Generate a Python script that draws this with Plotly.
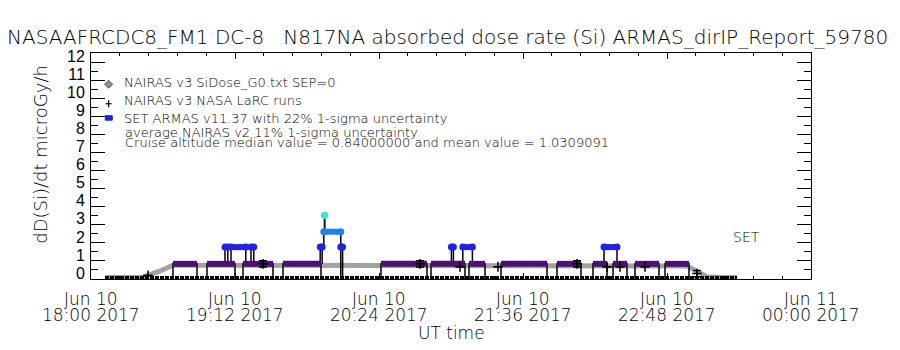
import pandas as pd
import plotly.graph_objects as go

T0 = pd.Timestamp("2017-06-10 18:00")


def tt(mins):
    return [T0 + pd.Timedelta(minutes=float(m)) for m in mins]


# ---------------- data (minutes after 2017-06-10 18:00 UT) ----------------
# NAIRAS v3 SiDose_G0 model curve
nairas_t = [7, 26, 34, 41, 60, 90, 120, 150, 180, 210, 240, 270, 298, 303, 308, 316, 323]
nairas_v = [0.08, 0.10, 0.42, 0.76, 0.76, 0.75, 0.76, 0.76, 0.75, 0.74, 0.75, 0.74, 0.72, 0.42, 0.12, 0.09, 0.08]

# ARMAS zero-level baseline extent
base_t = [7, 323]
base_v = [0.08, 0.08]

# ARMAS cruise-level segments
cruise_start = [41, 58, 76, 96, 145, 170, 189, 205, 233, 251, 261, 272, 287]
cruise_end = [53, 72, 91, 115, 168, 187, 197, 228, 245, 258, 268, 284, 299]
cruise_level = 0.84

# ARMAS enhanced points
spike_start = [67.0, 70.0, 80.0, 114.6, 116.4, 116.8, 124.9, 180.2, 185.9, 256.5]
spike_end = [68.4, 77.4, 81.4, 115.6, 124.9, 116.8, 125.8, 181.2, 190.7, 263.0]
spike_value = [1.77, 1.77, 1.77, 1.77, 2.62, 3.53, 1.77, 1.77, 1.77, 1.77]
spike_base = [0.84, 0.84, 0.84, 0.84, 1.77, 2.62, 0.0, 0.84, 0.84, 0.84]

# NAIRAS v3 NASA LaRC runs
larc_t = [28.5, 86.0, 164.5, 184.5, 203.5, 243.0, 258.0, 264.5, 277.0, 303.0]
larc_v = [0.20, 0.84, 0.84, 0.68, 0.68, 0.84, 0.68, 0.68, 0.68, 0.30]
larc_err = [0.0, 0.17, 0.17, 0.0, 0.0, 0.17, 0.0, 0.0, 0.0, 0.17]

# axis labels
x_tick_min = [0, 72, 144, 216, 288, 360]
x_tick_top = ["Jun 10", "Jun 10", "Jun 10", "Jun 10", "Jun 10", "Jun 11"]
x_tick_bot = ["18:00 2017", "19:12 2017", "20:24 2017", "21:36 2017", "22:48 2017", "00:00 2017"]
y_tick_vals = list(range(0, 13))
y_tick_text = [str(v) for v in y_tick_vals]

title_text = "NASAAFRCDC8_FM1 DC-8   N817NA absorbed dose rate (Si) ARMAS_dirIP_Report_59780"
legend_lines = [
    "NAIRAS v3 SiDose_G0.txt SEP=0",
    "NAIRAS v3 NASA LaRC runs",
    "SET ARMAS v11.37 with 22% 1-sigma uncertainty",
    "average NAIRAS v2 11% 1-sigma uncertainty",
    "Cruise altitude median value = 0.84000000 and mean value = 1.0309091",
]

# ---------------- styles ----------------
FONT = "DejaVu Sans, Liberation Sans, sans-serif"
W = 200
PURPLE = "#4c1173"
BLUE = "#2222e6"
LBLUE = "#1f80f0"
CYAN = "#33e6e6"
level_color = {1.77: BLUE, 2.62: LBLUE, 3.53: CYAN}

fig = go.Figure()

# NAIRAS band (dithered gray)
fig.add_trace(go.Scatter(x=tt(nairas_t), y=nairas_v, mode="lines",
                         line=dict(color="#a2a2a2", width=5), hoverinfo="skip"))
# baseline (zero values)
fig.add_trace(go.Scatter(x=tt(base_t), y=base_v, mode="lines",
                         line=dict(color="black", width=3, dash="4px,1px"), hoverinfo="skip"))

# black connecting lines for ARMAS
lx, ly = [], []
for s, e in zip(cruise_start, cruise_end):
    lx += [s, s, e, e, None]
    ly += [0, cruise_level, cruise_level, 0, None]
for s, e, v, b in zip(spike_start, spike_end, spike_value, spike_base):
    lx += [s, s, None, e, e, None]
    ly += [b, v, None, v, b, None]
fig.add_trace(go.Scatter(x=[T0 + pd.Timedelta(minutes=m) if m is not None else None for m in lx],
                         y=ly, mode="lines", line=dict(color="black", width=1.5),
                         hoverinfo="skip"))

# purple cruise bars
px_, py_ = [], []
for s, e in zip(cruise_start, cruise_end):
    px_ += [T0 + pd.Timedelta(minutes=s), T0 + pd.Timedelta(minutes=e), None]
    py_ += [cruise_level, cruise_level, None]
fig.add_trace(go.Scatter(x=px_, y=py_, mode="lines",
                         line=dict(color=PURPLE, width=6), hoverinfo="skip"))

# enhanced points
for s, e, v in zip(spike_start, spike_end, spike_value):
    c = level_color[v]
    fig.add_trace(go.Scatter(x=tt([s, e]), y=[v, v], mode="lines+markers",
                             line=dict(color=c, width=6),
                             marker=dict(color=c, size=7, symbol="circle"),
                             hoverinfo="skip"))

# LaRC runs with error bars
fig.add_trace(go.Scatter(x=tt(larc_t), y=larc_v, mode="markers",
                         marker=dict(symbol="cross-thin", size=7,
                                     line=dict(color="black", width=1.5)),
                         error_y=dict(type="data", array=larc_err, color="black",
                                      thickness=1.5, width=4),
                         hoverinfo="skip"))

# ---------------- layout ----------------
fig.update_layout(
    width=900, height=350,
    margin=dict(l=91, r=89, t=53, b=71),
    paper_bgcolor="white", plot_bgcolor="white",
    showlegend=False,
    font=dict(family=FONT, color="black", weight=W),
    xaxis=dict(type="date", range=[T0, T0 + pd.Timedelta(hours=6)],
               showline=True, linecolor="black", linewidth=1, mirror="ticks",
               ticks="inside", ticklen=6, tickcolor="black", tickwidth=1,
               tickvals=tt(x_tick_min), showticklabels=False, showgrid=False,
               zeroline=False,
               minor=dict(ticks="inside", ticklen=3, tickcolor="black",
                          tick0=T0, dtick=864000, showgrid=False)),
    yaxis=dict(range=[0, 12.53], showline=True, linecolor="black", linewidth=1,
               mirror="ticks", ticks="inside", ticklen=14, tickcolor="black",
               tickvals=y_tick_vals, ticktext=y_tick_text, ticklabelshift=-6,
               ticklabelstandoff=2,
               tickfont=dict(family="Liberation Sans Narrow, Liberation Sans", size=16,
                             weight=W),
               showgrid=False, zeroline=False,
               minor=dict(ticks="inside", ticklen=7, tickcolor="black", dtick=0.5,
                          showgrid=False)),
)

ann = []
for m, a, b in zip(x_tick_min, x_tick_top, x_tick_bot):
    xv = T0 + pd.Timedelta(minutes=m)
    ann.append(dict(x=xv, xref="x", y=0, yref="paper", yanchor="middle", yshift=-20,
                    text=a, showarrow=False, font=dict(size=17, weight=W)))
    ann.append(dict(x=xv, xref="x", y=0, yref="paper", yanchor="middle", yshift=-36,
                    text=b, showarrow=False, font=dict(size=17, weight=W)))
ann.append(dict(x=0.5, xref="paper", y=0, yref="paper", yanchor="middle", yshift=-54,
                text="UT time", showarrow=False, font=dict(size=17, weight=W)))
ann.append(dict(x=0, xref="paper", xshift=-50, xanchor="center", y=0.55, yref="paper",
                textangle=-90, text="dD(Si)/dt microGy/h", showarrow=False,
                font=dict(size=18, weight=W)))
ann.append(dict(x=0, xref="paper", xshift=-86, xanchor="left", y=1, yref="paper",
                yshift=16, yanchor="middle", text=title_text, showarrow=False,
                font=dict(size=20, weight=W)))
leg_y = [82, 100.5, 118, 132, 142]
leg_x = [121.7, 121.7, 121.7, 123, 123]
for txt, yy, xx in zip(legend_lines, leg_y, leg_x):
    ann.append(dict(x=(xx - 90.7) / 720, xref="paper", xanchor="left",
                    y=(279 - yy) / 226.3, yref="paper", yanchor="middle",
                    text=txt, showarrow=False, font=dict(size=13, weight=W)))
ann.append(dict(x=(731 - 90.7) / 720, xref="paper", xanchor="left",
                y=(279 - 237) / 226.3, yref="paper", yanchor="middle",
                text="SET", showarrow=False, font=dict(size=14, weight=W)))
fig.update_layout(annotations=ann)


# legend glyphs
def px2paper(x, y):
    return (x - 90.7) / 720, (279 - y) / 226.3


dx0, dy0 = px2paper(108.3, 84)
d = 4 / 720
e = 4 / 226.3
fig.add_shape(type="path", xref="paper", yref="paper",
              path=f"M {dx0-d} {dy0} L {dx0} {dy0+e} L {dx0+d} {dy0} L {dx0} {dy0-e} Z",
              fillcolor="#8f8f8f", line=dict(color="#555555", width=1))
cx, cy = px2paper(108.3, 103.5)
fig.add_shape(type="line", xref="paper", yref="paper", x0=cx - 3 / 720, x1=cx + 3 / 720,
              y0=cy, y1=cy, line=dict(color="black", width=1.2))
fig.add_shape(type="line", xref="paper", yref="paper", x0=cx, x1=cx,
              y0=cy - 3.5 / 226.3, y1=cy + 3.5 / 226.3, line=dict(color="black", width=1.2))
bx0, by0 = px2paper(105, 115.5)
bx1, by1 = px2paper(112, 120)
fig.add_shape(type="rect", xref="paper", yref="paper", x0=bx0, x1=bx1, y0=by1, y1=by0,
              fillcolor=BLUE, line=dict(color=BLUE, width=1))

fig.write_html("out.html")
